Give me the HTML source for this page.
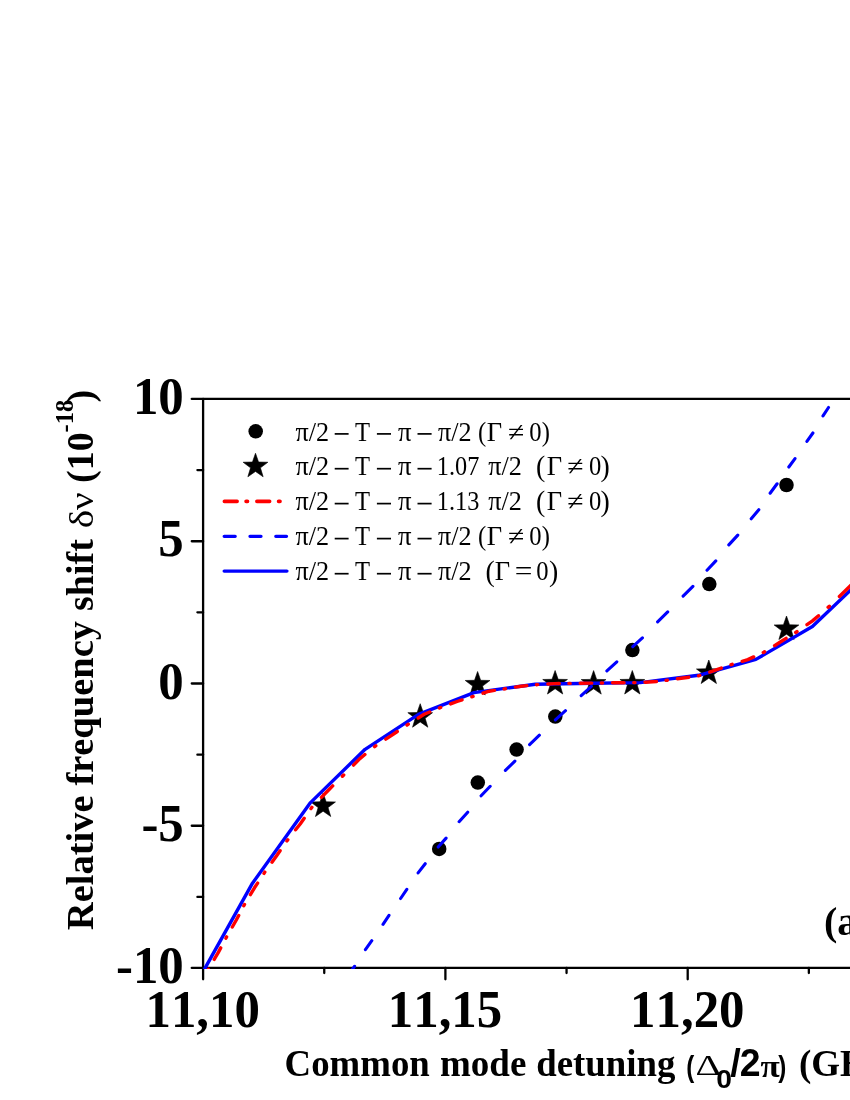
<!DOCTYPE html>
<html><head><meta charset="utf-8"><title>chart</title>
<style>
html,body{margin:0;padding:0;background:#fff;}
body{width:850px;height:1100px;overflow:hidden;}
svg{display:block;will-change:transform;}
text{font-family:"Liberation Serif",serif;fill:#000;font-kerning:none;font-variant-ligatures:none;white-space:pre;}
.b{font-weight:bold;}
.s{font-family:"Liberation Sans",sans-serif;}
</style></head><body>
<svg width="850" height="1100" viewBox="0 0 850 1100">
<rect width="850" height="1100" fill="#fff"/>
<defs><clipPath id="cp"><rect x="202" y="397.8" width="700" height="571.2"/></clipPath>
<polygon id="st" points="0.00,-13.00 3.06,-4.21 12.36,-4.02 4.95,1.61 7.64,10.52 0.00,5.20 -7.64,10.52 -4.95,1.61 -12.36,-4.02 -3.06,-4.21" fill="#000" stroke="#000" stroke-width="0.6" stroke-linejoin="round"/>
</defs>
<g stroke="#000" stroke-width="2.3" fill="none" stroke-linecap="round">
<line x1="191.75" y1="398.9" x2="860" y2="398.9"/>
<line x1="191.75" y1="967.9" x2="860" y2="967.9"/>
<line x1="203.1" y1="398.9" x2="203.1" y2="979.3"/>
<line x1="191.75" y1="541.23" x2="203.1" y2="541.23"/>
<line x1="191.75" y1="683.50" x2="203.1" y2="683.50"/>
<line x1="191.75" y1="825.77" x2="203.1" y2="825.77"/>
<line x1="197.4" y1="470.09" x2="203.1" y2="470.09"/>
<line x1="197.4" y1="612.36" x2="203.1" y2="612.36"/>
<line x1="197.4" y1="754.64" x2="203.1" y2="754.64"/>
<line x1="197.4" y1="896.91" x2="203.1" y2="896.91"/>
<line x1="445.40" y1="967.9" x2="445.40" y2="979.3"/>
<line x1="687.70" y1="967.9" x2="687.70" y2="979.3"/>
<line x1="324.25" y1="967.9" x2="324.25" y2="973.1"/>
<line x1="566.55" y1="967.9" x2="566.55" y2="973.1"/>
<line x1="808.85" y1="967.9" x2="808.85" y2="973.1"/>
</g>
<circle cx="439.2" cy="848.9" r="7.25" fill="#000"/>
<circle cx="477.8" cy="782.6" r="7.25" fill="#000"/>
<circle cx="516.6" cy="749.6" r="7.25" fill="#000"/>
<circle cx="555.3" cy="716.6" r="7.25" fill="#000"/>
<circle cx="632.4" cy="650.1" r="7.25" fill="#000"/>
<circle cx="709.3" cy="584.1" r="7.25" fill="#000"/>
<circle cx="786.5" cy="485" r="7.25" fill="#000"/>
<use href="#st" x="323.1" y="806"/>
<use href="#st" x="420.2" y="716.7"/>
<use href="#st" x="477.6" y="684.5"/>
<use href="#st" x="555.1" y="683.5"/>
<use href="#st" x="593.6" y="683.6"/>
<use href="#st" x="632.3" y="683.5"/>
<use href="#st" x="708.8" y="673"/>
<use href="#st" x="786.5" y="629"/>
<g clip-path="url(#cp)" fill="none" stroke-linejoin="round" stroke-linecap="round" stroke-width="3.4">
<polyline points="201.5,974.6 205.9,966.7 252.5,883.2 310.5,802.6 365.1,749.3 418.5,714.3 474.0,692.6 535.2,684.2 593.0,683.2 640.3,682.6 698.6,675.3 755.9,659.4 812.4,626.5 850.0,590.7 870.0,571.6" stroke="#0000ff"/>
<path d="M207.5 970.6 L208.3 969.3M214.2 959.4 L218.2 952.6 L220.7 947.9M225.9 938.2 L226.6 936.9M232.3 927.0 L236.3 920.0 L238.7 915.5M243.8 905.8 L244.5 904.5M250.4 894.6 L254.5 887.8 L257.6 883.1M264.0 873.4 L264.8 872.1M272.0 862.2 L276.8 855.5 L280.1 850.7M286.9 841.0 L287.8 839.8M295.6 829.8 L300.4 823.7 L304.2 818.3M311.0 808.6 L311.9 807.3M321.4 797.4 L328.6 790.0 L332.7 785.9M342.4 776.3 L343.7 775.0M353.5 765.1 L359.9 758.6 L364.9 754.5M374.6 746.7 L375.8 745.7 L375.9 745.7M385.8 739.1 L392.4 734.8 L397.3 731.5M407.0 725.1 L408.3 724.2M418.2 718.0 L424.2 714.3 L429.7 712.0M439.4 708.1 L440.2 707.7 L440.7 707.5M450.6 703.9 L457.1 701.5 L462.1 699.9M471.8 696.8 L473.1 696.4M483.0 693.2 L489.1 691.2 L494.5 690.4M504.1 689.0 L504.7 688.9 L505.4 688.8M515.4 687.1 L521.1 686.2 L526.9 685.6M536.5 684.7 L537.1 684.6 L537.8 684.6M547.8 684.0 L555.0 683.6 L559.3 683.5M568.9 683.4 L570.2 683.4M580.2 683.3 L591.7 683.1M601.3 683.0 L602.6 683.0M612.6 682.8 L624.1 682.7M633.7 682.6 L635.0 682.6M645.0 682.2 L656.5 681.5M666.1 680.4 L667.4 680.2M677.4 678.8 L688.9 677.2M698.5 675.8 L699.8 675.4M709.8 672.1 L715.4 670.2 L721.3 668.1M730.9 664.7 L731.0 664.7 L732.2 664.3M742.2 661.3 L747.8 659.6 L753.7 656.9M763.3 652.5 L763.8 652.3 L764.6 651.8M774.6 645.6 L780.3 642.0 L786.1 638.4M795.7 632.5 L796.4 632.1 L797.0 631.6M807.0 624.7 L812.5 620.9 L818.5 615.7M828.1 607.3 L828.9 606.7 L829.4 606.2M839.4 596.5 L844.0 592.0 L850.9 585.3M860.5 575.9 L861.8 574.6M871.8 564.9 L872.0 564.7" stroke="#ff0000"/>
<path d="M347.9 975.3L354.6 966.3M365.4 949.7L371.8 940.7M383.0 924.3L389.0 915.3M400.6 898.5L406.8 889.4M418.1 872.9L425.2 863.7M438.2 847.0L446.1 838.1M459.1 821.7L467.7 812.2M481.1 795.8L490.2 786.3M505.4 770.4L514.9 761.1M529.6 744.6L539.4 735.2M555.4 719.9L565.5 710.7M581.2 695.6L591.4 686.3M606.9 670.9L616.8 661.8M632.8 646.7L642.4 637.9M657.6 621.8L667.7 611.9M683.1 596.1L692.9 586.4M707.0 570.2L715.8 560.9M728.8 544.9L737.8 535.1M751.2 518.8L758.8 509.7M770.1 493.2L777.1 483.8M788.8 467.0L795.0 458.6M806.9 441.4L812.9 433.0M823.0 415.9L828.5 407.5" stroke="#0000ff" stroke-width="3.1"/>
</g>
<circle cx="255.7" cy="431.3" r="7.25" fill="#000"/>
<use href="#st" x="255.5" y="466.25"/>
<g fill="none" stroke-linecap="round" stroke-width="3.7">
<line x1="224.4" y1="501.3" x2="280.5" y2="501.3" stroke="#ff0000" stroke-dasharray="12.7 9 1.4 9.4"/>
<line x1="224.2" y1="536.3" x2="286.5" y2="536.3" stroke="#0000ff" stroke-width="3.3" stroke-dasharray="11 14.8"/>
<line x1="224.2" y1="571.1" x2="286.9" y2="571.1" stroke="#0000ff" stroke-width="3.4"/>
</g>
<text font-size="27" transform="translate(295.43,440.50) scale(0.97,1)">π/2</text>
<rect x="334.70" y="433.05" width="13.90" height="1.7" fill="#000"/>
<text font-size="27" transform="translate(354.96,440.50) scale(0.912,1)">T</text>
<rect x="376.90" y="433.05" width="14.10" height="1.7" fill="#000"/>
<text font-size="27" transform="translate(397.93,440.50) scale(0.99,1)">π</text>
<rect x="417.50" y="433.05" width="14.10" height="1.7" fill="#000"/>
<text font-size="27" transform="translate(438.03,440.50) scale(0.97,1)">π/2</text>
<text font-size="27" transform="translate(478.12,440.50) scale(0.912,1)">(</text>
<text font-size="27" transform="translate(486.73,440.50) scale(0.985,1)">Γ</text>
<text font-size="27" transform="translate(507.95,440.50) scale(1.1,1)">≠</text>
<text font-size="27" transform="translate(529.36,440.50) scale(0.912,1)">0)</text>
<text font-size="27" transform="translate(295.43,475.30) scale(0.97,1)">π/2</text>
<rect x="334.70" y="467.85" width="13.90" height="1.7" fill="#000"/>
<text font-size="27" transform="translate(354.96,475.30) scale(0.912,1)">T</text>
<rect x="376.90" y="467.85" width="14.10" height="1.7" fill="#000"/>
<text font-size="27" transform="translate(397.93,475.30) scale(0.99,1)">π</text>
<rect x="417.50" y="467.85" width="14.10" height="1.7" fill="#000"/>
<text font-size="27" transform="translate(436.86,475.30) scale(0.9,1)">1.07</text>
<text font-size="27" transform="translate(488.23,475.30) scale(0.97,1)">π/2</text>
<text font-size="30.5" transform="translate(535.98,476.30) scale(0.912,1)">(</text>
<text font-size="27" transform="translate(546.73,475.30) scale(0.985,1)">Γ</text>
<text font-size="27" transform="translate(567.25,475.30) scale(1.1,1)">≠</text>
<text font-size="27" transform="translate(588.96,475.30) scale(0.912,1)">0</text>
<text font-size="30.5" transform="translate(600.41,476.30) scale(0.912,1)">)</text>
<text font-size="27" transform="translate(295.43,510.20) scale(0.97,1)">π/2</text>
<rect x="334.70" y="502.75" width="13.90" height="1.7" fill="#000"/>
<text font-size="27" transform="translate(354.96,510.20) scale(0.912,1)">T</text>
<rect x="376.90" y="502.75" width="14.10" height="1.7" fill="#000"/>
<text font-size="27" transform="translate(397.93,510.20) scale(0.99,1)">π</text>
<rect x="417.50" y="502.75" width="14.10" height="1.7" fill="#000"/>
<text font-size="27" transform="translate(436.86,510.20) scale(0.9,1)">1.13</text>
<text font-size="27" transform="translate(488.23,510.20) scale(0.97,1)">π/2</text>
<text font-size="30.5" transform="translate(535.98,511.20) scale(0.912,1)">(</text>
<text font-size="27" transform="translate(546.73,510.20) scale(0.985,1)">Γ</text>
<text font-size="27" transform="translate(567.25,510.20) scale(1.1,1)">≠</text>
<text font-size="27" transform="translate(588.96,510.20) scale(0.912,1)">0</text>
<text font-size="30.5" transform="translate(600.41,511.20) scale(0.912,1)">)</text>
<text font-size="27" transform="translate(295.43,545.20) scale(0.97,1)">π/2</text>
<rect x="334.70" y="537.75" width="13.90" height="1.7" fill="#000"/>
<text font-size="27" transform="translate(354.96,545.20) scale(0.912,1)">T</text>
<rect x="376.90" y="537.75" width="14.10" height="1.7" fill="#000"/>
<text font-size="27" transform="translate(397.93,545.20) scale(0.99,1)">π</text>
<rect x="417.50" y="537.75" width="14.10" height="1.7" fill="#000"/>
<text font-size="27" transform="translate(438.03,545.20) scale(0.97,1)">π/2</text>
<text font-size="27" transform="translate(478.12,545.20) scale(0.912,1)">(</text>
<text font-size="27" transform="translate(486.73,545.20) scale(0.985,1)">Γ</text>
<text font-size="27" transform="translate(507.95,545.20) scale(1.1,1)">≠</text>
<text font-size="27" transform="translate(529.36,545.20) scale(0.912,1)">0)</text>
<text font-size="27" transform="translate(295.43,580.30) scale(0.97,1)">π/2</text>
<rect x="334.70" y="572.85" width="13.90" height="1.7" fill="#000"/>
<text font-size="27" transform="translate(354.96,580.30) scale(0.912,1)">T</text>
<rect x="376.90" y="572.85" width="14.10" height="1.7" fill="#000"/>
<text font-size="27" transform="translate(397.93,580.30) scale(0.99,1)">π</text>
<rect x="417.50" y="572.85" width="14.10" height="1.7" fill="#000"/>
<text font-size="27" transform="translate(438.03,580.30) scale(0.97,1)">π/2</text>
<text font-size="30.5" transform="translate(485.38,581.30) scale(0.912,1)">(</text>
<text font-size="27" transform="translate(494.83,580.30) scale(0.985,1)">Γ</text>
<text font-size="27" transform="translate(514.63,580.30) scale(1.16,1)">=</text>
<text font-size="27" transform="translate(536.26,580.30) scale(0.912,1)">0</text>
<text font-size="30.5" transform="translate(549.11,581.30) scale(0.912,1)">)</text>
<text class="b" font-size="53.6" text-anchor="end" transform="translate(183.8,414.15) scale(0.95,1)">10</text>
<text class="b" font-size="53.6" text-anchor="end" transform="translate(183.8,556.43) scale(0.95,1)">5</text>
<text class="b" font-size="53.6" text-anchor="end" transform="translate(183.8,698.70) scale(0.95,1)">0</text>
<text class="b" font-size="53.6" text-anchor="end" transform="translate(183.8,840.98) scale(0.95,1)">-5</text>
<text class="b" font-size="53.6" text-anchor="end" transform="translate(183.8,983.25) scale(0.95,1)">-10</text>
<text class="b" font-size="53.6" text-anchor="middle" transform="translate(202.70,1027.2) scale(0.95,1)">11,10</text>
<text class="b" font-size="53.6" text-anchor="middle" transform="translate(445.00,1027.2) scale(0.95,1)">11,15</text>
<text class="b" font-size="53.6" text-anchor="middle" transform="translate(687.30,1027.2) scale(0.95,1)">11,20</text>
<text class="b" font-size="53.6" text-anchor="middle" transform="translate(929.60,1027.2) scale(0.95,1)">11,25</text>
<text class="b" font-size="37" transform="translate(284.60,1076.00) scale(0.995,1)">Common</text>
<text class="b" font-size="37" transform="translate(440.00,1076.00) scale(1,1)">mode</text>
<text class="b" font-size="37" transform="translate(536.30,1076.00) scale(0.995,1)">detuning</text>
<text class="s b" font-size="29.5" transform="translate(686.20,1076.60) scale(0.82,1)">(</text>
<text font-size="30" transform="translate(695.60,1075.30) scale(1.33,1)">Δ</text>
<text class="s b" font-size="25.7" transform="translate(716.30,1087.80) scale(1.1,1)">0</text>
<text class="s b" font-size="38" transform="translate(730.30,1076.30) scale(1,1)">/</text>
<text class="s b" font-size="39" transform="translate(739.80,1076.20) scale(0.96,1)">2</text>
<text class="b" font-size="32.6" transform="translate(760.60,1076.80) scale(1.08,1)">π</text>
<text class="s b" font-size="29.5" transform="translate(778.30,1076.60) scale(0.82,1)">)</text>
<text class="b" font-size="37" transform="translate(799.00,1076.00) scale(1,1)">(GHz)</text>
<text class="b" font-size="40" x="824" y="935">(a)</text>
<text class="b" font-size="38" transform="translate(93.40,930.20) rotate(-90) scale(1.015,1)">Relative</text>
<text class="b" font-size="38" transform="translate(93.40,785.60) rotate(-90) scale(1.013,1)">frequency</text>
<text class="b" font-size="38" transform="translate(93.40,611.00) rotate(-90) scale(1,1)">shift</text>
<text font-size="34.6" transform="translate(93.40,528.30) rotate(-90) scale(1.13,1)">δν</text>
<text class="b" font-size="38" transform="translate(93.40,483.00) rotate(-90) scale(1,1)">(10</text>
<text class="b" font-size="24.5" transform="translate(72.80,432.50) rotate(-90) scale(1,1)">-18</text>
<text class="b" font-size="38" transform="translate(93.40,402.50) rotate(-90) scale(1,1)">)</text>
</svg>
</body></html>
